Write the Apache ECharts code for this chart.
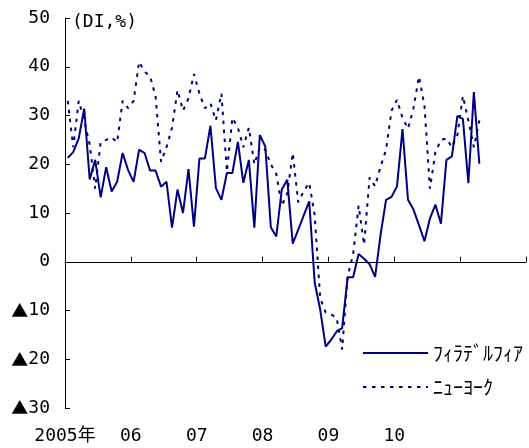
<!DOCTYPE html>
<html>
<head>
<meta charset="utf-8">
<script src="https://cdn.jsdelivr.net/npm/echarts@6/dist/echarts.min.js"></script>
<style>html,body{margin:0;padding:0;background:#fff}#c{width:529px;height:448px}</style>
</head>
<body>
<div id="c"></div>
<script>
// Year tick labels (one per 12 months, starting Jan 2005)
var yearLabels = ['2005年', '06', '07', '08', '09', '10', ''];
// Monthly values, Jan 2005 - Apr 2011
var philadelphia = [21.3, 22.5, 25.3, 31.4, 16.9, 20.9, 13.2, 19.4, 14.4, 16.4, 22.3, 18.8,
  16.4, 23.0, 22.3, 18.7, 18.7, 15.4, 16.4, 7.0, 14.8, 10.0, 19.0, 7.2,
  21.2, 21.2, 27.9, 15.1, 12.7, 18.2, 18.2, 24.6, 16.2, 20.9, 7.0, 26.0,
  23.6, 7.1, 5.2, 14.8, 16.8, 3.7, 6.6, 9.5, 12.4, -4.3, -9.8, -17.4,
  -16.0, -14.3, -13.6, -3.2, -3.2, 1.6, 0.6, -0.5, -3.1, 5.5, 12.7, 13.3,
  15.5, 27.2, 12.7, 10.7, 7.5, 4.2, 8.9, 11.7, 7.8, 20.9, 21.6, 29.9,
  29.3, 16.1, 34.8, 20.1];
var newYork = [33, 23.5, 33, 29, 24, 15, 24.5, 25, 25.5, 24.5, 33, 31.5,
  33, 41, 39, 38, 34, 20.5, 23.5, 27.5, 35.2, 31, 33.5, 38.5,
  34.5, 31.5, 32.5, 29, 34.5, 18.5, 29.5, 27.5, 23.5, 27.5, 20, 23.5,
  23, 20, 18, 11.5, 14, 22.3, 12.2, 14.5, 16.2, 9.5, -7.5, -10.4,
  -10.8, -11.5, -18, -3, 1.5, 11.5, 3.5, 17.3, 15.5, 19.5, 23, 31,
  33.2, 29.5, 27.3, 31.5, 38, 32, 15, 22.5, 25, 25.3, 23.5, 26,
  34, 29, 23.5, 29];
var seriesNames = ['ﾌｨﾗﾃﾞﾙﾌｨｱ', 'ﾆｭｰﾖｰｸ'];

function toPoints(arr) {
  return arr.map(function (v, i) { return [i + 0.5, v]; });
}

var MONO = "'DejaVu Sans Mono','Noto Sans CJK JP'";
var chart = echarts.init(document.getElementById('c'), null, {renderer: 'canvas'});
chart.setOption({
  animation: false,
  backgroundColor: '#fff',
  title: {
    text: '(DI,%)', left: 72, top: 13, padding: 0,
    textStyle: {fontSize: 18, fontWeight: 'normal', color: '#000', fontFamily: MONO}
  },
  grid: {left: 65, right: 3, top: 18, bottom: 40, outerBoundsMode: 'none'},
  legend: {
    orient: 'vertical', left: 362, top: 343, itemWidth: 65, itemHeight: 14, itemGap: 14,
    padding: 0,
    itemStyle: {opacity: 0, color: 'transparent', borderColor: 'transparent', borderWidth: 0},
    textStyle: {fontSize: 20, color: '#000', fontFamily: "'Noto Sans CJK JP'"},
    data: seriesNames
  },
  xAxis: [{
    type: 'value', min: 0, max: 84, interval: 12, position: 'bottom',
    axisLine: {show: false, onZero: false},
    axisTick: {show: false},
    splitLine: {show: false},
    axisLabel: {
      margin: 19, color: '#000', fontSize: 18, fontFamily: MONO,
      formatter: function (v) { return yearLabels[Math.round(v / 12)]; }
    }
  }, {
    type: 'value', min: 0, max: 84, interval: 12, position: 'bottom',
    axisLine: {show: true, onZero: true, onZeroAxisIndex: 0, lineStyle: {color: '#000', width: 1}},
    axisTick: {show: true, inside: true, length: 5, lineStyle: {color: '#000'}},
    axisLabel: {show: false},
    splitLine: {show: false}
  }],
  yAxis: {
    type: 'value', min: -30, max: 50, interval: 10,
    axisLine: {show: true, onZero: false, lineStyle: {color: '#000', width: 1}},
    axisTick: {show: true, inside: true, length: 5, lineStyle: {color: '#000'}},
    splitLine: {show: false},
    axisLabel: {
      margin: 15, color: '#000', fontSize: 18, fontFamily: MONO,
      formatter: function (v) { return v < 0 ? '{t|▲}' + (-v) : String(v); },
      rich: {t: {fontFamily: "'Noto Sans CJK JP'", fontSize: 17, color: '#000'}}
    }
  },
  series: [{
    name: seriesNames[0], type: 'line', xAxisIndex: 0, symbol: 'none',
    data: toPoints(philadelphia),
    lineStyle: {color: '#000080', width: 2},
    itemStyle: {color: '#000080'}
  }, {
    name: seriesNames[1], type: 'line', xAxisIndex: 0, symbol: 'none',
    data: toPoints(newYork),
    lineStyle: {color: '#000080', width: 2, type: [3.5, 5.5]},
    itemStyle: {color: '#000080'}
  }]
});
</script>
</body>
</html>
